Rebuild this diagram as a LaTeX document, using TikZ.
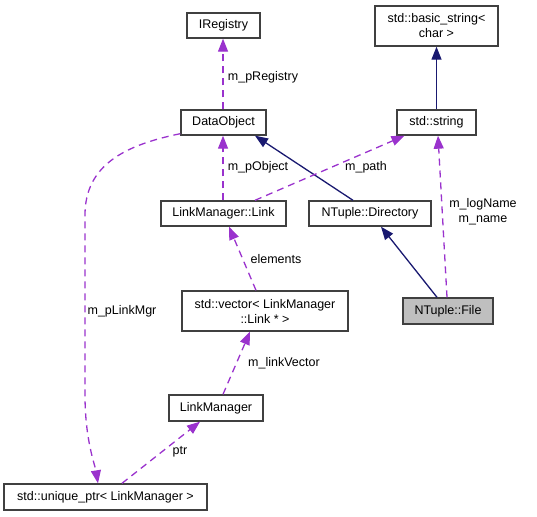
\documentclass[tikz,border=0pt]{standalone}
\usepackage{fontspec}
\setmainfont{Liberation Sans}
\usetikzlibrary{arrows.meta,calc}
\definecolor{edgepurple}{HTML}{9A32CD}
\definecolor{edgenavy}{HTML}{191970}
\definecolor{boxline}{HTML}{404040}
\definecolor{filefill}{HTML}{BFBFBF}
\begin{document}
\begin{tikzpicture}[x=1pt,y=-1pt,
  font=\fontsize{12.5}{15}\selectfont,
  box/.style={draw=boxline, line width=1.4pt, inner sep=0pt, align=center, fill=white},
  lbl/.style={inner sep=0pt, align=center},
  assoc/.style={draw=edgepurple, line width=1.3pt, dash pattern=on 7pt off 5pt,
    -{Triangle[length=13pt,width=10pt,fill=edgepurple]}},
  inherit/.style={draw=edgenavy, line width=1.3pt,
    -{Triangle[length=13pt,width=10pt,fill=edgenavy]}}]
\useasboundingbox (0,0) rectangle (537,516);
% nodes
\node[box, minimum width=73pt, minimum height=25pt] (ireg) at (223.5,25.5) {IRegistry};
\node[box, minimum width=123pt, minimum height=40pt] (bstr) at (436.5,26) {std::basic\_string<\\char >};
\node[box, minimum width=85pt, minimum height=25pt] (dobj) at (223.5,122.5) {DataObject};
\node[box, minimum width=79pt, minimum height=25pt] (str) at (436.5,122.5) {std::string};
\node[box, minimum width=125pt, minimum height=25pt] (link) at (223.5,213.5) {LinkManager::Link};
\node[box, minimum width=122pt, minimum height=25pt] (dir) at (370,213.5) {NTuple::Directory};
\node[box, minimum width=166pt, minimum height=40pt] (vec) at (265,311) {std::vector< LinkManager\\::Link * >};
\node[box, fill=filefill, minimum width=90pt, minimum height=26pt] (file) at (448,311) {NTuple::File};
\node[box, minimum width=94pt, minimum height=26pt] (lmgr) at (216,408) {LinkManager};
\node[box, minimum width=203pt, minimum height=26pt] (uptr) at (105.5,497) {std::unique\_ptr< LinkManager >};
% edges
\draw[inherit] (str.north) -- (bstr.south);
\draw[assoc] ([xshift=-0.5pt]dobj.north) -- ([xshift=-0.5pt]ireg.south);
\draw[assoc] ([xshift=-0.5pt]link.north) -- ([xshift=-0.5pt]dobj.south);
\draw[inherit] ([xshift=-17pt]dir.north) -- ([xshift=31.5pt]dobj.south);
\draw[assoc] ([xshift=31.5pt]link.north) -- ([xshift=-32pt]str.south);
\draw[assoc] ([xshift=-1pt]file.north) -- ([xshift=1.5pt]str.south);
\draw[inherit] ([xshift=-11pt]file.north) -- ([xshift=11pt]dir.south);
\draw[assoc] ([xshift=-9pt]vec.north) -- ([xshift=5.5pt]link.south);
\draw[assoc] ([xshift=7pt]lmgr.north) -- ([xshift=-15pt]vec.south);
\draw[assoc] ([xshift=16.5pt]uptr.north) -- ([xshift=-16pt]lmgr.south);
\coordinate (c1) at (85,215);
\coordinate (c2) at (85,395);
\draw[assoc] ([yshift=2pt]dobj.south west) .. controls (125,145) and (85,165) .. (c1) -- (c2) .. controls (85,440) and (95,465) .. ([xshift=-7.5pt]uptr.north);
% labels
\node[lbl] (l1) at (263,77) {m\_pRegistry};
\node[lbl] (l2) at (258,167) {m\_pObject};
\node[lbl] (l3) at (366,167) {m\_path};
\node[lbl] (l4) at (483,212) {m\_logName\\m\_name};
\node[lbl] (l5) at (276,259) {elements};
\node[lbl] (l6) at (122,311) {m\_pLinkMgr};
\node[lbl] (l7) at (284,363) {m\_linkVector};
\node[lbl] (l8) at (180,452) {ptr};
\end{tikzpicture}
\end{document}
